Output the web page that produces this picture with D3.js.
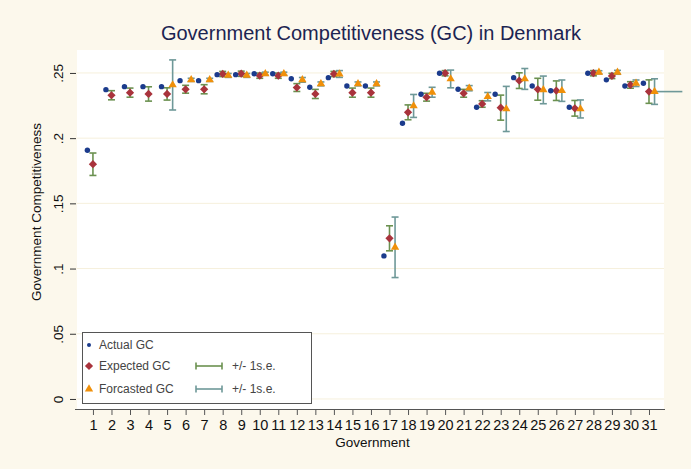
<!DOCTYPE html>
<html>
<head>
<meta charset="utf-8">
<script src="https://cdn.jsdelivr.net/npm/d3@7"></script>
<style>
  body { margin: 0; background: #fcf8ec; }
  text { font-family: "Liberation Sans", Arial, sans-serif; }
</style>
</head>
<body>
<div id="chart"></div>
<script>
// data
var governments = d3.range(1, 32);
var actualGC = [0.1907, 0.2372, 0.2395, 0.2395, 0.2395, 0.2441, 0.2441, 0.2487, 0.2487, 0.2494,
  0.2494, 0.2456, 0.2390, 0.2464, 0.2400, 0.2400, 0.1097, 0.2114, 0.2337, 0.2498,
  0.2375, 0.2237, 0.2337, 0.2464, 0.2400, 0.2364, 0.2237, 0.2498, 0.2447, 0.2400, 0.2421];
var expectedGC = [0.1800, 0.2329, 0.2349, 0.2339, 0.2339, 0.2375, 0.2375, 0.2492, 0.2494, 0.2479,
  0.2479, 0.2388, 0.2339, 0.2492, 0.2349, 0.2349, 0.1232, 0.2198, 0.2314, 0.2498,
  0.2344, 0.2262, 0.2234, 0.2441, 0.2375, 0.2364, 0.2229, 0.2498, 0.2477, 0.2408, 0.2357];
var expectedSE = [0.0086, 0.0035, 0.0035, 0.0055, 0.0047, 0.0030, 0.0035, 0.0020, 0.0020, 0.0020,
  0.0020, 0.0030, 0.0035, 0.0020, 0.0035, 0.0035, 0.0096, 0.0057, 0.0030, 0.0020,
  0.0030, 0.0025, 0.0096, 0.0060, 0.0084, 0.0075, 0.0060, 0.0020, 0.0020, 0.0025, 0.0090];
var forecastGC = [null, null, null, null, 0.2408, 0.2447, 0.2447, 0.2481, 0.2481, 0.2494,
  0.2494, 0.2447, 0.2416, 0.2492, 0.2416, 0.2416, 0.1163, 0.2247, 0.2352, 0.2454,
  0.2383, 0.2318, 0.2224, 0.2454, 0.2370, 0.2364, 0.2224, 0.2505, 0.2505, 0.2421, 0.2357];
var forecastSE = [null, null, null, null, 0.0192, 0.0012, 0.0012, 0.0015, 0.0015, 0.0012,
  0.0012, 0.0018, 0.0015, 0.0026, 0.0015, 0.0015, 0.0232, 0.0088, 0.0038, 0.0068,
  0.0020, 0.0032, 0.0173, 0.0080, 0.0106, 0.0082, 0.0069, 0.0012, 0.0015, 0.0025, 0.0098];
var yTicks = [0, 0.05, 0.1, 0.15, 0.2, 0.25];
var yTickLabels = ["0", ".05", ".1", ".15", ".2", ".25"];
var legendItems = ["Actual GC", "Expected GC", "Forcasted GC"];

var svgWidth = 691, svgHeight = 469;
var plot = { left: 77, right: 664, top: 50, bottom: 409 };

var svg = d3.select("#chart").append("svg")
    .attr("width", svgWidth)
    .attr("height", svgHeight);

svg.append("rect")
    .attr("width", svgWidth).attr("height", svgHeight)
    .attr("fill", "#fcf8ec");

svg.append("rect")
    .attr("x", plot.left).attr("y", plot.top)
    .attr("width", plot.right - plot.left)
    .attr("height", plot.bottom - plot.top)
    .attr("fill", "#ffffff");

var x = d3.scaleLinear().domain([0.14, 31.81]).range([plot.left, plot.right]);
var y = d3.scaleLinear().domain([-0.0077, 0.2676]).range([plot.bottom, plot.top]);

var rows = governments.map(function (g, i) {
    return {
        gov: g,
        actual: actualGC[i],
        expected: expectedGC[i],
        eSE: expectedSE[i],
        forecast: forecastGC[i],
        fSE: forecastSE[i]
    };
});

// faint grid lines
svg.append("g").selectAll("line")
    .data(yTicks)
    .enter().append("line")
    .attr("x1", plot.left).attr("x2", plot.right)
    .attr("y1", d => y(d)).attr("y2", d => y(d))
    .attr("stroke", "#f6f0dc")
    .attr("stroke-width", 1);

// y axis (ticks + rotated labels, no domain line)
var yAxis = svg.append("g")
    .attr("transform", `translate(${plot.left - 1},0)`)
    .call(d3.axisLeft(y).tickValues(yTicks).tickSize(6).tickPadding(4)
        .tickFormat((d, i) => yTickLabels[i]));
yAxis.select(".domain").remove();
yAxis.selectAll("line").attr("stroke", "#333");
yAxis.selectAll("text")
    .attr("font-size", 13.5)
    .attr("fill", "#111")
    .attr("text-anchor", "middle")
    .attr("transform", "rotate(-90)")
    .attr("x", 0)
    .attr("y", -13)
    .attr("dy", "0");

// x axis
var xAxis = svg.append("g")
    .attr("transform", `translate(0,${plot.bottom})`)
    .call(d3.axisBottom(x).tickValues(governments).tickSize(6).tickPadding(5)
        .tickFormat(d3.format("d")));
xAxis.select(".domain")
    .attr("d", `M${plot.left - 2},0.5H${plot.right + 1}`)
    .attr("stroke", "#555");
xAxis.selectAll("line").attr("stroke", "#555");
xAxis.selectAll("text").attr("font-size", 14.5).attr("fill", "#111");

// axis titles
svg.append("text")
    .attr("x", (plot.left + plot.right) / 2 + 2)
    .attr("y", 447)
    .attr("text-anchor", "middle")
    .attr("font-size", 13.5)
    .attr("fill", "#111")
    .text("Government");

svg.append("text")
    .attr("transform", "translate(41,212) rotate(-90)")
    .attr("text-anchor", "middle")
    .attr("font-size", 13.5)
    .attr("fill", "#111")
    .text("Government Competitiveness");

// title
svg.append("text")
    .attr("x", 371)
    .attr("y", 40)
    .attr("text-anchor", "middle")
    .attr("font-size", 20)
    .attr("fill", "#1c2452")
    .text("Government Competitiveness (GC) in Denmark");

var green = "#6b9150", teal = "#6e9898";
var capW = 3.5;

function errorBars(sel, data, xOff, val, se, color) {
    var g = sel.append("g").selectAll("g")
        .data(data)
        .enter().append("g")
        .attr("stroke", color)
        .attr("stroke-width", 1.6);
    g.append("line")
        .attr("x1", d => x(d.gov + xOff)).attr("x2", d => x(d.gov + xOff))
        .attr("y1", d => y(d[val] - d[se])).attr("y2", d => y(d[val] + d[se]));
    g.append("line")
        .attr("x1", d => x(d.gov + xOff) - capW).attr("x2", d => x(d.gov + xOff) + capW)
        .attr("y1", d => y(d[val] + d[se])).attr("y2", d => y(d[val] + d[se]));
    g.append("line")
        .attr("x1", d => x(d.gov + xOff) - capW).attr("x2", d => x(d.gov + xOff) + capW)
        .attr("y1", d => y(d[val] - d[se])).attr("y2", d => y(d[val] - d[se]));
}

var fcRows = rows.filter(d => d.forecast != null);

errorBars(svg, rows, 0, "expected", "eSE", green);
errorBars(svg, fcRows, 0.3, "forecast", "fSE", teal);

// stray horizontal line at the last forecast
svg.append("line")
    .attr("x1", x(31.3)).attr("x2", x(32.8))
    .attr("y1", y(forecastGC[30])).attr("y2", y(forecastGC[30]))
    .attr("stroke", teal)
    .attr("stroke-width", 1.6);

// Stata-style diamond: a square turned by 45 degrees
var diamond = d3.symbol().type(d3.symbolSquare).size(34);
var triangle = d3.symbol().type(d3.symbolTriangle).size(30);

svg.append("g").selectAll("path")
    .data(rows)
    .enter().append("path")
    .attr("d", diamond)
    .attr("transform", d => `translate(${x(d.gov)},${y(d.expected)}) rotate(45)`)
    .attr("fill", "#a9333c");

svg.append("g").selectAll("path")
    .data(fcRows)
    .enter().append("path")
    .attr("d", triangle)
    .attr("transform", d => `translate(${x(d.gov + 0.3)},${y(d.forecast)})`)
    .attr("fill", "#f0900a");

svg.append("g").selectAll("circle")
    .data(rows)
    .enter().append("circle")
    .attr("cx", d => x(d.gov - 0.3))
    .attr("cy", d => y(d.actual))
    .attr("r", 2.7)
    .attr("fill", "#1b3b8c");

// legend
var legend = svg.append("g");
legend.append("rect")
    .attr("x", 82.5).attr("y", 332.5)
    .attr("width", 229).attr("height", 71)
    .attr("fill", "#fff")
    .attr("stroke", "#555");

var rowY = [345, 366, 389];
legend.selectAll("text.lab")
    .data(legendItems)
    .enter().append("text")
    .attr("class", "lab")
    .attr("x", 99)
    .attr("y", (d, i) => rowY[i] + 4)
    .attr("font-size", 12)
    .attr("fill", "#444")
    .text(d => d);

legend.append("circle")
    .attr("cx", 89).attr("cy", rowY[0]).attr("r", 2)
    .attr("fill", "#1b3b8c");
legend.append("path")
    .attr("d", diamond)
    .attr("transform", `translate(89,${rowY[1]}) rotate(45)`)
    .attr("fill", "#a9333c");
legend.append("path")
    .attr("d", triangle)
    .attr("transform", `translate(89,${rowY[2]})`)
    .attr("fill", "#f0900a");

[[rowY[1], green], [rowY[2], teal]].forEach(function (r) {
    var g = legend.append("g").attr("stroke", r[1]).attr("stroke-width", 1.6);
    g.append("line").attr("x1", 196).attr("x2", 222).attr("y1", r[0]).attr("y2", r[0]);
    g.append("line").attr("x1", 196).attr("x2", 196).attr("y1", r[0] - 3.5).attr("y2", r[0] + 3.5);
    g.append("line").attr("x1", 222).attr("x2", 222).attr("y1", r[0] - 3.5).attr("y2", r[0] + 3.5);
    legend.append("text")
        .attr("x", 232).attr("y", r[0] + 4)
        .attr("font-size", 12)
        .attr("fill", "#444")
        .text("+/- 1s.e.");
});
</script>
</body>
</html>
